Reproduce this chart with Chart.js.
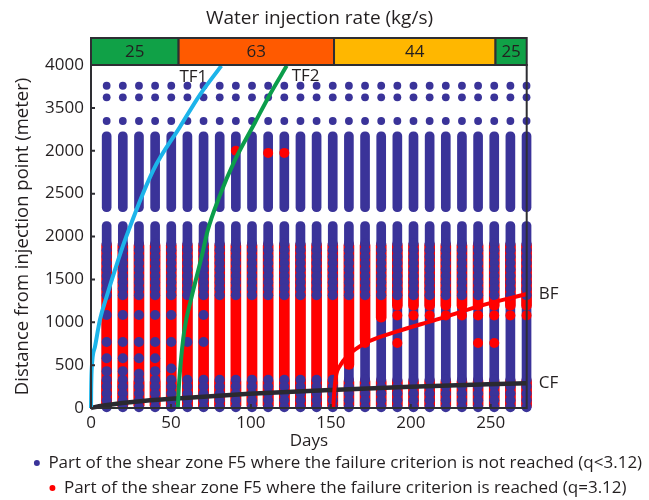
<!DOCTYPE html>
<html>
<head>
<meta charset="utf-8">
<script src="https://cdn.jsdelivr.net/npm/chart.js@4.4.1/dist/chart.umd.min.js"></script>
<style>
  html, body { margin: 0; padding: 0; background: #fff; }
  #wrap { width: 649px; height: 500px; }
</style>
</head>
<body>
<div id="wrap"><canvas id="chart"></canvas></div>
<script>
// ── Axes
const xMax = 272.5;
const xTicks = [0, 50, 100, 150, 200, 250];
const yTickLabels = ['0', '500', '1000', '1500', '2000', '2500', '2000', '3500', '4000'];

// ── Injection rate banner (kg/s)
const rateTitle  = 'Water injection rate (kg/s)';
const rateStart  = [0, 54.8, 152, 253];
const rateEnd    = [54.8, 152, 253, 272.5];
const rateValues = [25, 63, 44, 25];
const rateColors = ['#10a147', '#ff5a00', '#ffb700', '#10a147'];

// ── Output times of the model (days)
const columnDays = [9.8, 19.9, 30.0, 40.1, 50.2, 60.3, 70.4, 80.5, 90.6, 100.7, 110.8, 120.9, 131.0, 141.1,
                    151.2, 161.3, 171.4, 181.5, 191.6, 201.7, 211.8, 221.9, 232.0, 242.1, 252.2, 262.3, 272.4];

// ── Shear zone nodes, q < 3.12 (distance, m)
const sparseLevels = [3758, 3623, 3347];
const blueBlocks   = [[2290, 3222], [-25, 2175]];
const bandLevels   = [1915, 1840, 1765, 1690, 1615, 1540, 1465, 1390, 1315];
const bottomLevels = [330, 250, 170, 90, 10];
const blueSpots    = [[1085, 770, 580, 430], [1085, 770, 580, 430], [1085, 770, 580, 400], [1085, 770, 580, 430],
                      [1085, 770, 460], [770], [1085, 770], [], [], [], [], [], [], [], [],
                      [], [], [], [], [], [], [], [], [], [], [], []];

// ── Shear zone nodes, q = 3.12 (distance, m)
const redTop    = 1950;
const redFloor  = [-25, -25, -25, -25, -25, -25, -25, -25, -25, -25, -25, -25, -25, -25, -25,
                   450, 740, 1000, 1140, 1140, 1140, 1140, 1140, 1140, 1140, 1140, 1140];
const bottomRed = [-25, 360];
const redSpots  = [[], [], [], [], [], [], [], [], [3000], [], [2975], [2975], [], [], [],
                   [], [757], [], [1080, 757], [1080], [1080], [1080], [1080], [1080, 757], [1080, 757], [1080], [1080]];

// ── Fronts (days, m)
const tf1Days = [0, 0.1, 0.4, 2.5, 5.6, 9.8, 15, 21.3, 39, 55.7, 68, 81.5];
const tf1Dist = [0, 200, 440, 715, 1030, 1300, 1610, 1960, 2775, 3280, 3650, 3990];
const tf2Days = [54.3, 54.8, 55.7, 58.4, 63, 69.2, 73, 80, 90, 102.6, 112, 122.4];
const tf2Dist = [0, 200, 440, 910, 1300, 1765, 2070, 2450, 2890, 3330, 3660, 3990];
const bfDays  = [151.5, 152, 153.2, 156, 160, 172, 191, 216, 245, 272.5];
const bfDist  = [0, 150, 370, 500, 600, 760, 890, 1030, 1200, 1330];
const cfDays  = [0, 5, 26, 56, 99, 150, 200, 272.5];
const cfDist  = [0, 20, 70, 115, 165, 210, 248, 290];

const legendTexts = [
  'Part of the shear zone F5 where the failure criterion is not reached (q<3.12)',
  'Part of the shear zone F5 where the failure criterion is reached (q=3.12)'
];

const BLUE = '#3a3399';
const RED  = '#ff0000';
const TEXT = '#231f20';
const FONT = "'Open Sans', sans-serif";

Chart.defaults.font.family = FONT;
Chart.defaults.color = TEXT;

const pts = (xs, ys) => xs.map((d, i) => ({ x: d, y: ys[i] }));

const blueBarData = columnDays.flatMap(d => blueBlocks.map(b => ({ x: d, y: b })));
const redBarData  = columnDays.flatMap((d, i) => [{ x: d, y: [redFloor[i], redTop] }, { x: d, y: bottomRed }]);
const blueDotData = columnDays.flatMap((d, i) =>
  bandLevels.concat(bottomLevels, blueSpots[i]).map(v => ({ x: d, y: v })));
const redDotData  = columnDays.flatMap((d, i) => redSpots[i].map(v => ({ x: d, y: v })));
const sparseData  = columnDays.flatMap(d => sparseLevels.map(v => ({ x: d, y: v })));

const barStyle = { type: 'bar', barThickness: 9, borderRadius: 5, borderSkipped: false, borderWidth: 0, grouped: false, clip: false };
const dotStyle = { type: 'scatter', pointRadius: 5, pointBorderWidth: 0, borderWidth: 0, pointHoverRadius: 5, clip: false };
const lineStyle = { type: 'line', pointRadius: 0, borderWidth: 4, fill: false, cubicInterpolationMode: 'monotone', clip: false };

const lineLabels = [
  { text: 'TF1', dx: -14, dy: 11, align: 'right' },
  { text: 'TF2', dx: 5,   dy: 10, align: 'left' },
  { text: 'BF',  dx: 12,  dy: 0,  align: 'left' },
  { text: 'CF',  dx: 12,  dy: 0,  align: 'left' }
];

// ── Banner, frame, inward ticks and front labels
const decorPlugin = {
  id: 'decor',
  afterDatasetsDraw(chart) {
    const { ctx, chartArea: a, scales: { x, y } } = chart;
    ctx.save();
    ctx.strokeStyle = '#2e2e33';
    ctx.lineWidth = 2;

    ctx.beginPath();
    y.ticks.forEach(t => {
      const py = y.getPixelForValue(t.value);
      ctx.moveTo(a.left, py); ctx.lineTo(a.left + 4, py);
    });
    x.ticks.forEach(t => {
      const px = x.getPixelForValue(t.value);
      ctx.moveTo(px, a.bottom); ctx.lineTo(px, a.bottom - 4);
    });
    ctx.stroke();
    ctx.strokeRect(a.left, a.top, a.right - a.left, a.bottom - a.top);

    const bTop = a.top - 27;
    ctx.font = '17px ' + FONT;
    ctx.textAlign = 'center';
    ctx.textBaseline = 'middle';
    rateStart.forEach((s, i) => {
      const x0 = x.getPixelForValue(s), x1 = x.getPixelForValue(rateEnd[i]);
      ctx.fillStyle = rateColors[i];
      ctx.fillRect(x0, bTop, x1 - x0, 27);
      ctx.strokeRect(x0, bTop, x1 - x0, 27);
      ctx.fillStyle = TEXT;
      ctx.fillText(String(rateValues[i]), (x0 + x1) / 2, bTop + 14);
    });
    ctx.font = '19px ' + FONT;
    ctx.fillText(rateTitle, chart.width / 2 - 5, 19);

    ctx.font = '17px ' + FONT;
    lineLabels.forEach((l, i) => {
      const meta = chart.getDatasetMeta(i);
      const end = meta.data[meta.data.length - 1];
      ctx.textAlign = l.align;
      ctx.fillText(l.text, end.x + l.dx, end.y + l.dy);
    });
    ctx.restore();
  }
};

new Chart(document.getElementById('chart'), {
  type: 'scatter',
  data: {
    datasets: [
      { ...lineStyle, label: 'TF1', data: pts(tf1Days, tf1Dist), borderColor: '#1cb4ea', order: 0 },
      { ...lineStyle, label: 'TF2', data: pts(tf2Days, tf2Dist), borderColor: '#0b9d4b', order: 0 },
      { ...lineStyle, label: 'BF',  data: pts(bfDays, bfDist),   borderColor: RED,       order: 0 },
      { ...lineStyle, label: 'CF',  data: pts(cfDays, cfDist),   borderColor: '#2a2930', borderWidth: 4.5, order: 0 },
      { ...dotStyle, label: legendTexts[0], data: blueDotData, backgroundColor: BLUE, order: 2 },
      { ...dotStyle, label: legendTexts[1], data: redDotData,  backgroundColor: RED,  order: 1 },
      { ...dotStyle, label: 'sparse', data: sparseData, backgroundColor: BLUE, pointRadius: 3.9, order: 2 },
      { ...barStyle, label: 'red bars',  data: redBarData,  backgroundColor: RED, barThickness: 10, order: 3 },
      { ...barStyle, label: 'blue bars', data: blueBarData, backgroundColor: BLUE, order: 4 }
    ]
  },
  options: {
    responsive: true,
    maintainAspectRatio: false,
    animation: false,
    layout: { padding: { top: 65, left: 27, right: 0, bottom: -6.5 } },
    plugins: {
      tooltip: { enabled: false },
      title: { display: false },
      legend: {
        position: 'bottom',
        onClick: null,
        labels: {
          usePointStyle: true,
          pointStyle: 'circle',
          boxWidth: 6,
          boxHeight: 4.2,
          padding: 8,
          color: TEXT,
          font: { size: 17, family: FONT },
          filter: item => legendTexts.includes(item.text),
          sort: (a, b) => legendTexts.indexOf(a.text) - legendTexts.indexOf(b.text)
        }
      }
    },
    scales: {
      x: {
        type: 'linear',
        min: 0,
        max: xMax,
        offset: false,
        grid: { display: false, drawTicks: false },
        border: { display: false },
        ticks: { padding: 5, color: TEXT, font: { size: 17 } },
        afterBuildTicks(s) { s.ticks = xTicks.map(v => ({ value: v })); },
        title: { display: true, text: 'Days', color: TEXT, font: { size: 17 }, padding: { top: 0, bottom: -4.7 } },
        afterFit(s) { s.height = 38.5; }
      },
      y: {
        min: 0,
        max: 4000,
        grid: { display: false, drawTicks: false },
        border: { display: false },
        ticks: { stepSize: 500, padding: 7, color: TEXT, font: { size: 17 },
                 callback: (v, i) => yTickLabels[i] },
        title: { display: true, text: 'Distance from injection point (meter)', color: TEXT,
                 font: { size: 18.5 }, padding: { top: -15, bottom: 0 } },
        afterFit(s) { s.width = 64; }
      },
      yR: {
        position: 'right',
        min: 0,
        max: 4000,
        grid: { display: false, drawTicks: false },
        border: { display: false },
        ticks: { display: false },
        afterFit(s) { s.width = 122.3; }
      }
    }
  },
  plugins: [decorPlugin]
});
</script>
</body>
</html>
